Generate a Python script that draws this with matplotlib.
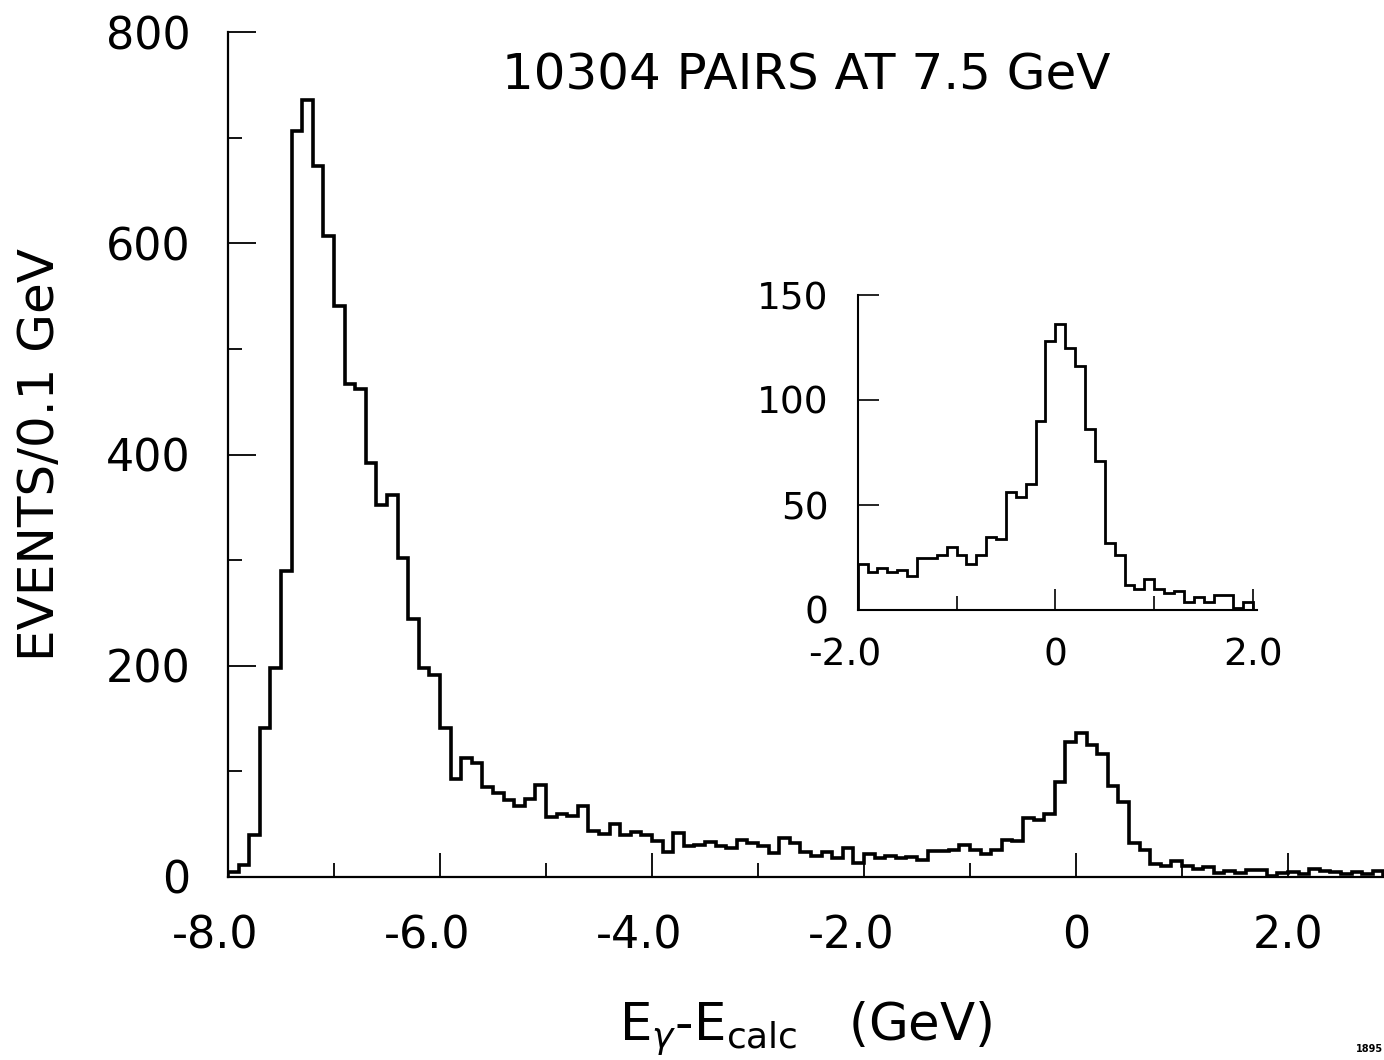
"""Photon energy residual histogram (10304 pairs at 7.5 GeV) with an inset
zoomed on the -2..2 GeV peak."""

import matplotlib
matplotlib.use("Agg")
import matplotlib.pyplot as plt
import numpy as np
from matplotlib.ticker import FixedLocator, FixedFormatter
from matplotlib.transforms import ScaledTranslation

# events per 0.1 GeV bin
COUNTS_LOW = [  # -8.0 .. -2.0
    5, 11, 40, 141, 198, 290, 706, 736, 673, 607,
    541, 467, 462, 392, 352, 362, 302, 244, 198, 191,
    141, 93, 113, 108, 85, 80, 73, 67, 74, 87,
    57, 60, 58, 67, 44, 41, 50, 40, 43, 40,
    34, 24, 42, 29, 30, 33, 29, 27, 35, 32,
    29, 23, 37, 32, 24, 20, 24, 18, 27, 13,
]
COUNTS_MID = [  # -2.0 .. 2.0
    22, 18, 20, 18, 19, 16, 25, 25, 26, 30,
    26, 22, 26, 35, 34, 56, 54, 60, 90, 128,
    136, 125, 116, 86, 71, 32, 26, 12, 10, 15,
    10, 8, 9, 4, 6, 4, 7, 7, 1, 4,
]
COUNTS_HIGH = [5, 3, 8, 6, 5, 3, 5, 3, 6]  # 2.0 .. 2.9

X_START = -8.0
BIN_WIDTH = 0.1

MAIN_XTICKS = [-8, -6, -4, -2, 0, 2]
MAIN_XLABELS = ["-8.0", "-6.0", "-4.0", "-2.0", "0", "2.0"]
MAIN_XMINOR = [-7, -5, -3, -1, 1]
MAIN_YTICKS = [0, 200, 400, 600, 800]
MAIN_YMINOR = [100, 300, 500, 700]

INSET_XTICKS = [-2, 0, 2]
INSET_XLABELS = ["-2.0", "0", "2.0"]
INSET_XMINOR = [-1, 1]
INSET_YTICKS = [0, 50, 100, 150]

TITLE = "10304 PAIRS AT 7.5 GeV"
XLABEL = r"E$_{\gamma}$-E$_{\rm calc}$   (GeV)"
YLABEL = "EVENTS/0.1 GeV"

W, H = 1384, 1060


def style_axes(ax, lw):
    for side in ("top", "right"):
        ax.spines[side].set_visible(False)
    for side in ("left", "bottom"):
        ax.spines[side].set_linewidth(lw)


def hang_minus(fig, ax, shift_pt):
    # keep the digits centred on the tick, let the minus sign hang left
    off = ScaledTranslation(shift_pt / 72, 0, fig.dpi_scale_trans)
    for lab in ax.get_xticklabels():
        if lab.get_text().startswith("-"):
            lab.set_transform(lab.get_transform() + off)


def main() -> None:
    counts = np.array(COUNTS_LOW + COUNTS_MID + COUNTS_HIGH, dtype=float)
    edges = np.round(X_START + BIN_WIDTH * np.arange(len(counts) + 1), 2)

    plt.rcParams["font.family"] = ["DejaVu Sans"]
    plt.rcParams["mathtext.fontset"] = "dejavusans"

    fig = plt.figure(figsize=(W / 100, H / 100), dpi=100)
    fig.patch.set_facecolor("white")

    # ---------------- main histogram ----------------
    ax = fig.add_axes([228 / W, 1 - 877 / H, (W - 228) / W, 845 / H])
    ax.stairs(counts, edges, color="black", linewidth=2.6)
    ax.set_xlim(-8.0, 2.906)
    ax.set_ylim(0, 800)
    style_axes(ax, 1.6)

    ax.xaxis.set_major_locator(FixedLocator(MAIN_XTICKS))
    ax.xaxis.set_major_formatter(FixedFormatter(MAIN_XLABELS))
    ax.xaxis.set_minor_locator(FixedLocator(MAIN_XMINOR))
    ax.yaxis.set_major_locator(FixedLocator(MAIN_YTICKS))
    ax.yaxis.set_minor_locator(FixedLocator(MAIN_YMINOR))
    ax.tick_params(axis="both", which="both", direction="in", width=1.3,
                   top=False, right=False, labelsize=32)
    ax.tick_params(axis="x", which="major", length=17, pad=27)
    ax.tick_params(axis="x", which="minor", length=10)
    ax.tick_params(axis="y", which="major", length=20, pad=27)
    ax.tick_params(axis="y", which="minor", length=10)
    hang_minus(fig, ax, -9)

    ax.text(0.5, 0.949, TITLE, transform=ax.transAxes, ha="center",
            va="center", fontsize=36)
    ax.set_xlabel(XLABEL, fontsize=37)
    ax.xaxis.set_label_coords(0.5, -0.145)
    ax.set_ylabel(YLABEL, fontsize=36)
    ax.yaxis.set_label_coords(-0.142, 0.5)

    # ---------------- inset: -2 .. 2 GeV ----------------
    lo = int(round((-2.0 - X_START) / BIN_WIDTH))
    hi = int(round((2.0 - X_START) / BIN_WIDTH))
    ins = fig.add_axes([857.7 / W, 1 - 610 / H, (1257 - 857.7) / W, 315 / H])
    ins.stairs(counts[lo:hi], edges[lo:hi + 1], color="black", linewidth=2.0)
    ins.set_xlim(-2.0, 2.04)
    ins.set_ylim(0, 150)
    style_axes(ins, 1.5)

    ins.xaxis.set_major_locator(FixedLocator(INSET_XTICKS))
    ins.xaxis.set_major_formatter(FixedFormatter(INSET_XLABELS))
    ins.xaxis.set_minor_locator(FixedLocator(INSET_XMINOR))
    ins.yaxis.set_major_locator(FixedLocator(INSET_YTICKS))
    ins.tick_params(axis="both", which="both", direction="in", width=1.2,
                    top=False, right=False, labelsize=27)
    ins.tick_params(axis="x", which="major", length=15, pad=20)
    ins.tick_params(axis="x", which="minor", length=10)
    ins.tick_params(axis="y", which="major", length=15, pad=21)
    hang_minus(fig, ins, -9)

    fig.text(0.999, 0.006, "1895", ha="right", va="bottom", fontsize=7,
             fontweight="bold")

    fig.savefig("out.png", dpi=100, facecolor="white")
    plt.close(fig)


if __name__ == "__main__":
    main()
